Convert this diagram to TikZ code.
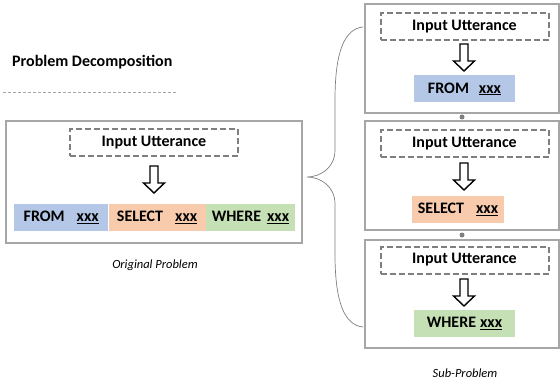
\documentclass[tikz,border=0pt]{standalone}
\usepackage{fontspec}
\setmainfont{Carlito}
\usepackage{tikz}
\usetikzlibrary{positioning}
\definecolor{fromblue}{HTML}{B4C7E7}
\definecolor{selectorange}{HTML}{F8CBAD}
\definecolor{wheregreen}{HTML}{C5E0B4}
\definecolor{framegray}{HTML}{A6A6A6}
\definecolor{dashgray}{HTML}{7F7F7F}
\tikzset{down arrow/.pic={
    \draw[line width=1.4pt, fill=white] (-4,0) -- (4,0) -- (4,17) -- (10.5,17) -- (0,27)
      -- (-10.5,17) -- (-4,17) -- cycle;}}

\begin{document}
\begin{tikzpicture}
    [x=1pt, y=-1pt,
      problem/.style={draw=framegray, line width=1.2pt, inner sep=0},
      utterance/.style={draw=dashgray, line width=2pt, dash pattern=on 6pt off 3pt,
        minimum width=168pt, minimum height=27pt, inner sep=0,
        font=\fontsize{16}{19}\selectfont\bfseries},
      clause/.style={minimum height=27pt, inner sep=0,
        font=\fontsize{16}{19}\selectfont\bfseries},
      caption/.style={font=\fontsize{12.5}{15}\selectfont\itshape}]

    \useasboundingbox (0,0) rectangle (560,385);

    % heading
    \node[anchor=west, inner sep=0, font=\fontsize{16}{19}\selectfont\bfseries]
    (title) at (12,62) {Problem Decomposition};
    \coordinate (rule start) at (3,92);
    \coordinate (rule end) at (178,92);
    \draw[framegray, dash pattern=on 3pt off 2pt] (rule start) -- (rule end);

    % original problem
    \node[problem, minimum width=296pt, minimum height=122pt] (O) at (154,182) {};
    \node[utterance] (OU) at (154,143) {Input Utterance};
    \pic at (154,166) {down arrow};
    \node[clause, fill=fromblue, minimum width=94pt, anchor=north west]
    (OF) at (14,204) {FROM\hspace{12pt}\underline{xxx}};
    \node[clause, fill=selectorange, minimum width=97pt, right=0pt of OF]
    (OS) {SELECT\hspace{12pt}\underline{xxx}};
    \node[clause, fill=wheregreen, minimum width=89pt, right=0pt of OS]
    (OW) {WHERE\hspace{6pt}\underline{xxx}};
    \node[caption] (OC) at (155,265) {Original Problem};

    % sub-problems
    \node[problem, minimum width=194pt, minimum height=109pt] (S1) at (462,58.5) {};
    \node[problem, minimum width=194pt, minimum height=109pt] (S2) at (462,175.5) {};
    \node[problem, minimum width=194pt, minimum height=108pt] (S3) at (462,294) {};

    \node[utterance] (U1) at (464.5,27) {Input Utterance};
    \node[utterance] (U2) at (464.5,143.5) {Input Utterance};
    \node[utterance] (U3) at (464.5,260) {Input Utterance};

    \pic at (464,44) {down arrow};
    \pic at (464,163) {down arrow};
    \pic at (464,279) {down arrow};

    \node[clause, fill=fromblue, minimum width=101pt] (F) at (464.5,89) {FROM\hspace{10pt}\underline{xxx}};
    \node[clause, fill=selectorange, minimum width=92pt] (S) at (458,209.5) {SELECT\hspace{12pt}\underline{xxx}};
    \node[clause, fill=wheregreen, minimum width=101pt] (W) at (464.5,323.5) {WHERE\hspace{4pt}\underline{xxx}};

    \fill[dashgray] (462,117) circle (2.5pt) (462,235) circle (2.5pt);

    \node[caption] (SC) at (465,373) {Sub-Problem};

    % brace
    \coordinate (brace top) at (363,27);
    \coordinate (brace tip) at (307,177);
    \coordinate (brace bottom) at (363,327);
    \draw[dashgray, line width=0.7pt] (brace top) .. controls (345,29) and (335,50) .. (335,100)
      -- (335,150) .. controls (335,168) and (320,177) .. (brace tip)
      .. controls (320,177) and (335,186) .. (335,204)
      -- (335,254) .. controls (335,304) and (345,325) .. (brace bottom);
  \end{tikzpicture}
\end{document}
